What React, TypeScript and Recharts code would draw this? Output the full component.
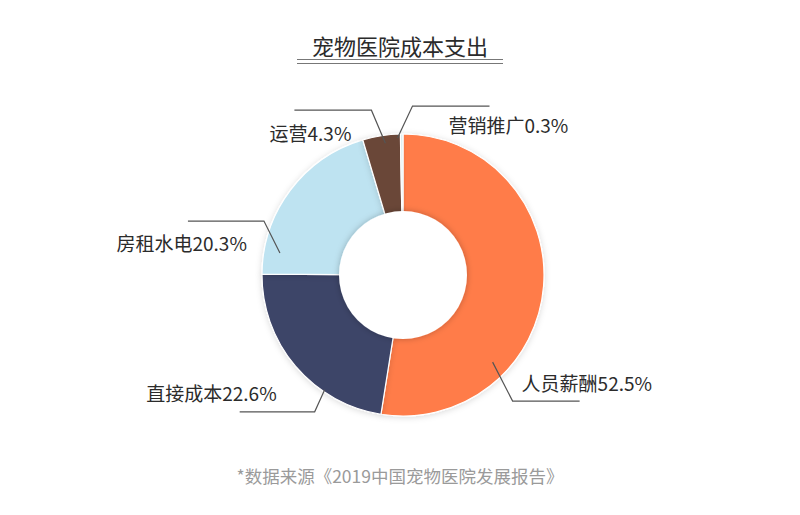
import React from 'react';
import { PieChart, Pie, Cell } from 'recharts';

const categories = ['人员薪酬', '直接成本', '房租水电', '运营', '营销推广'];
const shares = [52.5, 22.6, 20.3, 4.3, 0.3];
const colors = ['#FF7C48', '#3E4468', '#BEE3F1', '#6B4739', '#DCEFF3'];
const hole = [{ name: 'hole', value: 1 }];

// leader line layout per slice: anchor (math angle, radius), elbow offset, horizontal run, text offset from elbow
const leaders = [
  { angle: -44.2, r: 125, ex: 20, ey: 39, run: 67, tx: 9, ty: -19, anchor: 'start' },
  { angle: -124.3, r: 139, ex: -10, ey: 22, run: -75, tx: -38, ty: -19, anchor: 'end' },
  { angle: 169.9, r: 125, ex: -16, ey: -32, run: -76, tx: -17, ty: 21, anchor: 'end' },
  { angle: 97.6, r: 133, ex: -14, ey: -33, run: -77, tx: -20, ty: 22, anchor: 'end' },
  { angle: 92.3, r: 137, ex: 15, ey: -32, run: 77, tx: 36, ty: 18, anchor: 'start' },
];

const data = categories.map((name, i) => ({ name, value: shares[i] }));

const FONT = "'Noto Sans CJK SC', 'Noto Sans', sans-serif";
const RAD = Math.PI / 180;

const renderLabel = (props: any) => {
  const { cx, cy, index } = props;
  const l = leaders[index];
  const sx = cx + l.r * Math.cos(l.angle * RAD);
  const sy = cy - l.r * Math.sin(l.angle * RAD);
  const bx = sx + l.ex;
  const by = sy + l.ey;
  return (
    <g key={`lbl-${index}`}>
      <polyline
        points={`${sx},${sy} ${bx},${by} ${bx + l.run},${by}`}
        fill="none"
        stroke="#555"
        strokeWidth={1.2}
      />
      <text
        x={bx + l.tx}
        y={by + l.ty}
        textAnchor={l.anchor}
        dominantBaseline="central"
        fill="#2b2b2b"
        fontSize={19}
        fontFamily={FONT}
      >
        {`${categories[index]}${shares[index]}%`}
      </text>
    </g>
  );
};

const App = () => {
  return (
    <div style={{ position: 'fixed', left: 0, top: 0, width: 800, height: 515, background: '#fff', fontFamily: FONT }}>
      <svg width={0} height={0} style={{ position: 'absolute' }}>
        <defs>
          <filter id="holeShadow" x="-20%" y="-20%" width="140%" height="140%">
            <feDropShadow dx={0} dy={0} stdDeviation={3} floodColor="#000" floodOpacity={0.25} />
          </filter>
          <filter id="ringShadow" x="-10%" y="-10%" width="120%" height="120%">
            <feDropShadow dx={0} dy={1} stdDeviation={3} floodColor="#000" floodOpacity={0.15} />
          </filter>
        </defs>
      </svg>
      <div style={{ position: 'absolute', left: 0, width: 800, top: 30, textAlign: 'center', fontSize: 22, color: '#2b2b2b', lineHeight: '30px' }}>
        宠物医院成本支出
      </div>
      <div style={{ position: 'absolute', left: 297, width: 206, top: 59, height: 1, borderTop: '1.5px solid #777' }} />
      <div style={{ position: 'absolute', left: 297, width: 206, top: 62.5, height: 1, borderTop: '1.5px solid #777' }} />
      <PieChart width={800} height={515} margin={{ top: 0, right: 0, bottom: 0, left: 0 }} style={{ position: 'absolute', left: 0, top: 0 }}>
        <Pie
          data={data}
          dataKey="value"
          nameKey="name"
          cx={403}
          cy={275}
          innerRadius={60}
          outerRadius={141}
          startAngle={90}
          endAngle={-270}
          stroke="#fff"
          strokeWidth={1.2}
          label={renderLabel}
          labelLine={false}
          isAnimationActive={false}
        >
          {data.map((d, i) => (
            <Cell key={d.name} fill={colors[i]} filter="url(#ringShadow)" />
          ))}
        </Pie>
        <Pie
          data={hole}
          dataKey="value"
          cx={403}
          cy={275}
          innerRadius={0}
          outerRadius={64}
          stroke="none"
          isAnimationActive={false}
        >
          <Cell fill="#fff" filter="url(#holeShadow)" />
        </Pie>
      </PieChart>
      <div style={{ position: 'absolute', left: 0, width: 800, top: 463, textAlign: 'center', fontSize: 17.5, color: '#9a9a9a', lineHeight: '26px' }}>
        *数据来源《2019中国宠物医院发展报告》
      </div>
    </div>
  );
};

export default App;
